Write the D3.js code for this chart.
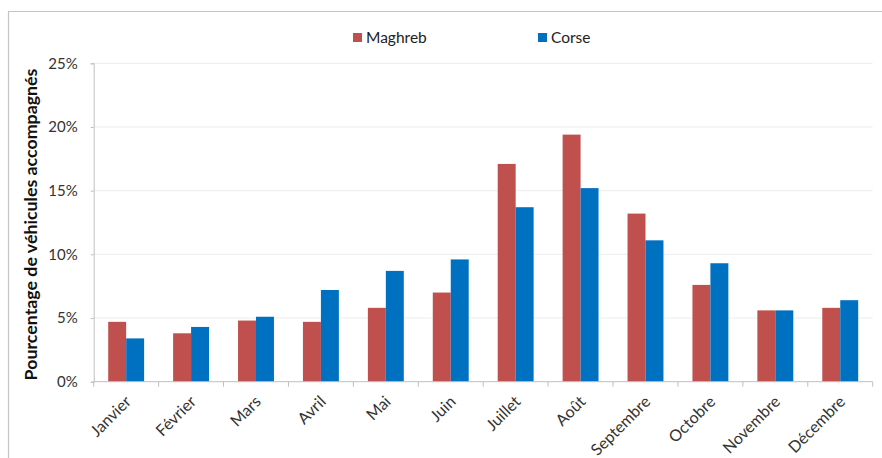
<!DOCTYPE html>
<html>
<head>
<meta charset="utf-8">
<script src="https://cdn.jsdelivr.net/npm/d3@7"></script>
<style>
  html, body { margin: 0; padding: 0; background: #fff; }
  svg { display: block; font-family: Lato, "Open Sans", sans-serif; }
</style>
</head>
<body>
<svg id="chart" width="882" height="458"></svg>
<script>
// Share of accompanied vehicles per month, by destination
const months = ["Janvier", "Février", "Mars", "Avril", "Mai", "Juin",
                "Juillet", "Août", "Septembre", "Octobre", "Novembre", "Décembre"];
const maghreb = [4.7, 3.8, 4.8, 4.7, 5.8, 7.0, 17.1, 19.4, 13.2, 7.6, 5.6, 5.8];
const corse   = [3.4, 4.3, 5.1, 7.2, 8.7, 9.6, 13.7, 15.2, 11.1, 9.3, 5.6, 6.4];
const seriesNames = ["Maghreb", "Corse"];
const yTicks = [0, 5, 10, 15, 20, 25];

const colors = { Maghreb: "#C0504D", Corse: "#0070C0" };

const svg = d3.select("#chart");

// outer chart frame (top and left edges visible)
svg.append("path")
  .attr("d", "M8.5,458 V11.5 H882")
  .attr("fill", "none")
  .attr("stroke", "#c4c4c4")
  .attr("stroke-width", 1.2);

const plot = { left: 93.7, right: 872.7, top: 63.3, bottom: 381.7 };

const x = d3.scaleBand()
  .domain(months)
  .range([plot.left, plot.right])
  .paddingInner(0)
  .paddingOuter(0);

const groupPad = 14.5;
const xs = d3.scaleBand()
  .domain(seriesNames)
  .range([groupPad, x.bandwidth() - groupPad]);

const y = d3.scaleLinear()
  .domain([0, 25])
  .range([plot.bottom, plot.top]);

// horizontal gridlines
svg.append("g")
  .selectAll("line")
  .data(yTicks.filter(d => d > 0))
  .join("line")
  .attr("x1", plot.left)
  .attr("x2", plot.right)
  .attr("y1", d => y(d))
  .attr("y2", d => y(d))
  .attr("stroke", "#ededed")
  .attr("stroke-width", 1);

// y axis
const yAxis = svg.append("g")
  .attr("transform", `translate(${plot.left},0)`)
  .call(d3.axisLeft(y).tickValues(yTicks).tickFormat(d => d + "%").tickSize(3).tickPadding(13));
yAxis.select(".domain").attr("stroke", "#bfbfbf");
yAxis.selectAll(".tick line").attr("stroke", "#bfbfbf");
yAxis.selectAll(".tick text")
  .attr("fill", "#333")
  .style("font-size", "15px")
  .style("font-family", "Lato, sans-serif");

// bars
const rows = months.map((m, i) => ({ month: m, Maghreb: maghreb[i], Corse: corse[i] }));
const groups = svg.append("g")
  .selectAll("g")
  .data(rows)
  .join("g")
  .attr("transform", d => `translate(${x(d.month)},0)`);

groups.selectAll("rect")
  .data(d => seriesNames.map(s => ({ key: s, value: d[s] })))
  .join("rect")
  .attr("x", d => xs(d.key))
  .attr("width", xs.bandwidth())
  .attr("y", d => y(d.value))
  .attr("height", d => y(0) - y(d.value))
  .attr("fill", d => colors[d.key]);

// x axis with ticks between categories
const xAxis = svg.append("g")
  .attr("transform", `translate(0,${plot.bottom})`);
xAxis.append("line")
  .attr("x1", plot.left).attr("x2", plot.right)
  .attr("stroke", "#bfbfbf");
xAxis.selectAll(".sep")
  .data(months.concat(["__end"]))
  .join("line")
  .attr("class", "sep")
  .attr("x1", (d, i) => plot.left + i * x.bandwidth())
  .attr("x2", (d, i) => plot.left + i * x.bandwidth())
  .attr("y1", 0).attr("y2", 5)
  .attr("stroke", "#bfbfbf");

xAxis.selectAll(".lbl")
  .data(months)
  .join("text")
  .attr("class", "lbl")
  .attr("transform", d => `translate(${x(d) + x.bandwidth() / 2 + 2},${17}) rotate(-45)`)
  .attr("text-anchor", "end")
  .attr("dy", "0.35em")
  .attr("fill", "#333")
  .style("font-size", "16px")
  .text(d => d);

// y axis title
svg.append("text")
  .attr("transform", `translate(31,${(plot.top + plot.bottom) / 2 + 2}) rotate(-90)`)
  .attr("text-anchor", "middle")
  .attr("dy", "0.35em")
  .attr("fill", "#111")
  .style("font-size", "17.8px")
  .style("font-weight", "bold")
  .text("Pourcentage de véhicules accompagnés");

// legend
const legendPos = { Maghreb: 353, Corse: 538 };
const legend = svg.append("g")
  .selectAll("g")
  .data(seriesNames)
  .join("g")
  .attr("transform", d => `translate(${legendPos[d]},33)`);
legend.append("rect")
  .attr("width", 9).attr("height", 9)
  .attr("fill", d => colors[d]);
legend.append("text")
  .attr("x", 13)
  .attr("y", 4.5)
  .attr("dy", "0.35em")
  .attr("fill", "#222")
  .style("font-size", "15.5px")
  .text(d => d);
</script>
</body>
</html>
